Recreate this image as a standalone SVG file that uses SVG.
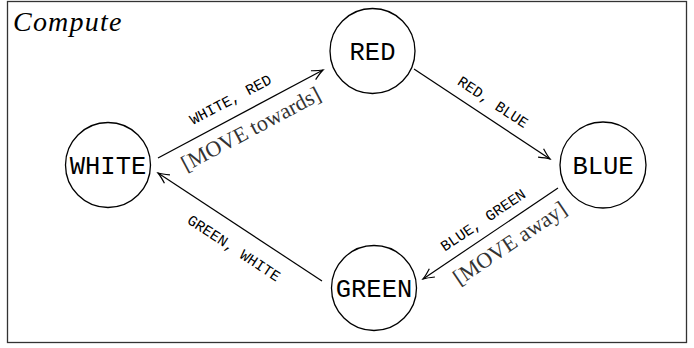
<svg xmlns="http://www.w3.org/2000/svg" width="694" height="348" viewBox="0 0 694 348">
<style>
.node circle{fill:#fff;stroke:#000;stroke-width:1.3}
.node text{font-family:"Liberation Mono",monospace;font-size:25.5px;text-anchor:middle}
.edge{fill:none;stroke:#000;stroke-width:1.2}
.lbl{font-family:"Liberation Mono",monospace;font-size:15px;text-anchor:middle}
.act{font-family:"Liberation Serif",serif;font-size:22px;text-anchor:middle;fill:#333}
</style>
<defs>
<marker id="arr" markerUnits="userSpaceOnUse" viewBox="-13 -7 15 14" refX="0" refY="0" markerWidth="15" markerHeight="14" orient="auto">
<path d="M -11,-5 Q -4,-1.2 0,0 Q -4,1.2 -11,5" fill="none" stroke="#000" stroke-width="1.2"/>
</marker>
</defs>
<rect x="7.5" y="1.5" width="679" height="341" fill="#fff" stroke="#333" stroke-width="1.3"/>
<text x="13" y="31" font-family="Liberation Serif,serif" font-style="italic" font-size="28" letter-spacing="1.2">Compute</text>
<g id="connectors">
<line class="edge" x1="158" y1="158" x2="323" y2="70" marker-end="url(#arr)"/>
<line class="edge" x1="414" y1="69" x2="550" y2="159" marker-end="url(#arr)"/>
<line class="edge" x1="558" y1="188" x2="423" y2="279" marker-end="url(#arr)"/>
<line class="edge" x1="322" y1="281" x2="158" y2="173" marker-end="url(#arr)"/>
<text class="lbl" transform="translate(230.5,99.5) rotate(-28)" y="5">WHITE, RED</text>
<text class="act" transform="translate(252,131) rotate(-28)" y="5">[MOVE towards]</text>
<text class="lbl" transform="translate(493,102) rotate(33.5)" y="5">RED, BLUE</text>
<text class="lbl" transform="translate(483,220) rotate(-34)" y="5">BLUE, GREEN</text>
<text class="act" transform="translate(511,245) rotate(-34)" y="5">[MOVE away]</text>
<text class="lbl" transform="translate(234,248) rotate(33.4)" y="5">GREEN, WHITE</text>
</g>
<g id="WHITE" class="node"><circle cx="108" cy="165" r="42.5"/><text x="108" y="174">WHITE</text></g>
<g id="RED" class="node"><circle cx="372.5" cy="51" r="42.5"/><text x="372.5" y="60">RED</text></g>
<g id="BLUE" class="node"><circle cx="603" cy="165" r="43"/><text x="603" y="174">BLUE</text></g>
<g id="GREEN" class="node"><circle cx="374" cy="288" r="42.5"/><text x="374" y="297">GREEN</text></g>
</svg>
